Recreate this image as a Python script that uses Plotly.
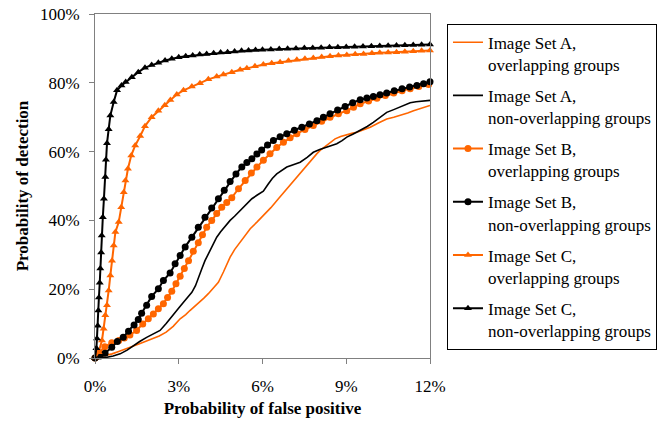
import plotly.graph_objects as go

ORANGE = "#FF6600"
BLACK = "#000000"
FONT = "Liberation Serif"

# ---- data (percent units) ----
a_over_x = [0, 0.3, 0.61, 0.85, 1.09, 1.35, 1.57, 1.8, 2.04, 2.3, 2.55, 2.8, 3.05, 3.25, 3.4, 3.58, 3.76, 3.9,
            4.06, 4.25, 4.42, 4.6, 4.84, 5.0, 5.2, 5.38, 5.56, 5.8, 6.03, 6.3, 6.57, 6.8, 7.0, 7.25, 7.47, 7.7,
            7.95, 8.1, 8.3, 8.45, 8.6, 8.8, 9.02, 9.2, 9.38, 9.6, 9.86, 10.15, 10.45, 10.7, 10.93, 11.2, 11.41,
            11.7, 12.0]
a_over_y = [0, 0.5, 1.2, 1.9, 2.7, 3.4, 4.1, 4.8, 5.6, 6.4, 7.5, 9.2, 11.4, 12.6, 13.8, 15.0, 16.2, 17.4,
            18.7, 20.3, 22.0, 25.0, 29.3, 31.5, 33.7, 35.6, 37.6, 39.5, 41.4, 43.7, 46.3, 48.5, 50.6, 52.8, 55.0,
            57.2, 59.4, 60.6, 61.8, 62.8, 63.7, 64.4, 65.0, 65.3, 65.6, 66.3, 67.1, 68.3, 69.5, 70.0, 70.5, 71.2,
            71.9, 72.7, 73.4]

a_non_x = [0, 0.2, 0.42, 0.65, 0.9, 1.15, 1.37, 1.6, 1.85, 2.1, 2.33, 2.55, 2.81, 3.0, 3.17, 3.3, 3.47, 3.6,
           3.7, 3.82, 3.94, 4.1, 4.25, 4.36, 4.5, 4.65, 4.84, 5.0, 5.15, 5.32, 5.45, 5.62, 5.8, 6.03, 6.2, 6.35,
           6.51, 6.7, 6.87, 7.1, 7.35, 7.6, 7.82, 8.05, 8.3, 8.5, 8.66, 8.85, 9.02, 9.25, 9.5, 9.75, 9.97, 10.2,
           10.45, 10.7, 10.93, 11.1, 11.29, 11.5, 11.75, 12.0]
a_non_y = [0, 0.1, 0.2, 0.6, 1.2, 2.3, 3.6, 4.8, 6.0, 7.0, 8.0, 10.0, 12.8, 14.5, 16.2, 17.5, 19.1, 21.0,
           23.5, 25.8, 28.3, 31.0, 33.5, 35.1, 36.7, 38.3, 40.0, 41.2, 42.4, 43.8, 45.0, 46.3, 47.3, 48.5, 50.5,
           52.2, 53.5, 54.6, 55.5, 56.2, 56.9, 58.3, 59.8, 60.6, 61.3, 61.8, 62.3, 63.2, 64.2, 65.1, 66.1, 67.3,
           68.5, 70.0, 71.4, 72.2, 72.9, 73.6, 74.2, 74.5, 74.7, 74.9]

b_over_x = [0, 0.15, 0.35, 0.6, 0.85, 1.05, 1.25, 1.49, 1.71, 1.91, 2.09, 2.27, 2.45, 2.6, 2.75, 2.9, 3.05,
            3.2, 3.35, 3.52, 3.7, 3.85, 4.0, 4.18, 4.36, 4.54, 4.72, 4.9, 5.14, 5.38, 5.6, 5.8, 6.03, 6.27,
            6.51, 6.75, 6.99, 7.23, 7.52, 7.82, 8.12, 8.42, 8.72, 9.02, 9.26, 9.5, 9.8, 10.1, 10.4, 10.7, 11.0,
            11.29, 11.6, 11.95]
b_over_y = [0, 1.5, 3.3, 4.4, 5.1, 5.8, 6.7, 8.0, 9.9, 11.4, 12.8, 14.3, 15.8, 17.6, 19.4, 21.6, 23.8,
            26.0, 28.3, 31.0, 33.5, 35.8, 38.0, 40.0, 42.0, 43.8, 45.2, 46.6, 49.2, 51.6, 53.8, 55.5, 57.5, 59.4,
            61.2, 62.7, 64.0, 65.2, 66.4, 67.6, 68.8, 70.0, 71.0, 71.9, 72.9, 73.9, 74.7, 75.5, 76.3, 77.0, 77.7,
            78.3, 78.9, 79.5]

b_non_x = [0, 0.18, 0.36, 0.6, 0.8, 1.01, 1.2, 1.4, 1.55, 1.67, 1.85, 2.03, 2.27, 2.45, 2.69, 2.87, 3.05,
           3.23, 3.47, 3.7, 3.94, 4.18, 4.42, 4.63, 4.84, 5.05, 5.26, 5.44, 5.62, 5.8, 5.97, 6.18, 6.39, 6.63,
           6.87, 7.14, 7.41, 7.68, 7.95, 8.18, 8.42, 8.69, 8.96, 9.23, 9.5, 9.74, 9.97, 10.21, 10.45, 10.72,
           11.0, 11.27, 11.53, 11.77, 12.0]
b_non_y = [0, 0.6, 1.4, 3.1, 4.8, 6.0, 7.8, 9.6, 11.2, 13.0, 15.3, 17.9, 20.1, 22.5, 24.7, 27.4, 29.8,
           32.3, 35.1, 38.0, 40.9, 43.6, 46.3, 48.8, 51.3, 53.5, 55.5, 56.8, 57.9, 59.3, 60.5, 61.9, 63.2, 64.3,
           65.2, 66.2, 67.1, 68.0, 69.0, 70.0, 71.0, 72.1, 73.1, 74.2, 75.1, 75.6, 76.0, 76.5, 77.0, 77.7,
           78.3, 78.8, 79.2, 79.7, 80.3]

c_over_x = [0, 0.13, 0.25, 0.31, 0.37, 0.43, 0.49, 0.55, 0.61, 0.67, 0.73, 0.85, 0.94, 1.03, 1.09, 1.18,
            1.3, 1.44, 1.62, 1.79, 2.03, 2.27, 2.5, 2.7, 2.93, 3.17, 3.47, 3.76, 4.06, 4.36, 4.6, 4.9, 5.2,
            5.44, 5.73, 6.03, 6.33, 6.63, 6.93, 7.23, 7.52, 7.82, 8.12, 8.42, 8.72, 9.02, 9.32, 9.62, 9.92,
            10.2, 10.5, 10.8, 11.1, 11.4, 11.7, 12.0]
c_over_y = [0, 1.7, 5.1, 8.5, 12.4, 15.3, 19.6, 24.0, 28.3, 32.7, 36.6, 39.5, 43.8, 48.2, 51.6, 55.0,
            58.9, 61.8, 64.5, 67.4, 70.0, 71.9, 73.5, 75.0, 76.6, 77.8, 78.9, 79.9, 81.0, 81.8, 82.4, 83.1,
            83.8, 84.2, 84.8, 85.3, 85.7, 86.0, 86.4, 86.7, 87.0, 87.2, 87.5, 87.7, 87.9, 88.1, 88.3, 88.4,
            88.6, 88.7, 88.8, 88.9, 89.0, 89.2, 89.3, 89.4]

c_non_x = [0, 0.05, 0.07, 0.1, 0.12, 0.14, 0.17, 0.19, 0.22, 0.24, 0.28, 0.32, 0.37, 0.39, 0.43, 0.49,
           0.55, 0.67, 0.79, 0.95, 1.1, 1.32, 1.55, 1.79, 2.03, 2.27, 2.51, 2.75, 3.0, 3.25, 3.5, 3.75, 4.0,
           4.25, 4.5, 4.75, 5.0, 5.25, 5.5, 5.75, 6.0, 6.3, 6.6, 6.9, 7.2, 7.5, 7.8, 8.1, 8.4, 8.7, 9.0, 9.3,
           9.6, 9.9, 10.2, 10.5, 10.8, 11.1, 11.4, 11.7, 12.0]
c_non_y = [0, 2.8, 5.7, 9.4, 13.8, 17.6, 21.9, 26.0, 30.7, 35.6, 40.9, 46.3, 52.6, 57.6, 62.4, 66.5,
           70.5, 74.4, 77.8, 79.2, 80.2, 81.6, 83.1, 84.4, 85.2, 85.8, 86.5, 87.0, 87.4, 87.7, 87.9, 88.2,
           88.4, 88.6, 88.8, 88.9, 89.1, 89.3, 89.4, 89.5, 89.6, 89.7, 89.8, 89.9, 90.0, 90.1, 90.15, 90.2,
           90.3, 90.35, 90.4, 90.5, 90.55, 90.6, 90.7, 90.75, 90.85, 90.9, 91.0, 91.05, 91.1]

x_ticks = [0, 3, 6, 9, 12]
x_tick_labels = ["0%", "3%", "6%", "9%", "12%"]
y_ticks = [0, 20, 40, 60, 80, 100]
y_tick_labels = ["0%", "20%", "40%", "60%", "80%", "100%"]

names = ["Image Set A,<br>overlapping groups", "Image Set A,<br>non-overlapping groups",
         "Image Set B,<br>overlapping groups", "Image Set B,<br>non-overlapping groups",
         "Image Set C,<br>overlapping groups", "Image Set C,<br>non-overlapping groups"]

fig = go.Figure()

series = [
    (a_over_x, a_over_y, ORANGE, None, 1.6),
    (a_non_x, a_non_y, BLACK, None, 1.6),
    (b_over_x, b_over_y, ORANGE, "circle", 2),
    (b_non_x, b_non_y, BLACK, "circle", 2),
    (c_over_x, c_over_y, ORANGE, "triangle-up", 2),
    (c_non_x, c_non_y, BLACK, "triangle-up", 2),
]
for i, (xs, ys, col, sym, lw) in enumerate(series):
    kw = dict(mode="lines")
    if sym:
        kw = dict(mode="lines+markers",
                  marker=dict(symbol=sym, size=7, color=col, line=dict(width=0)))
    fig.add_trace(go.Scatter(x=xs, y=ys, name=names[i], line=dict(color=col, width=lw),
                             legendgroup=f"g{i}", cliponaxis=False, **kw))

axis_common = dict(showline=True, linecolor="#808080", linewidth=1, mirror=True, ticks="outside",
                   ticklen=5, tickcolor="#808080", showgrid=False, zeroline=False,
                   tickfont=dict(family=FONT, size=17, color="black"))

fig.update_xaxes(range=[0, 12], tickmode="array", tickvals=x_ticks, ticktext=x_tick_labels,
                 ticklabelstandoff=8,
                 title=dict(text="<b>Probability of false positive</b>",
                            font=dict(family=FONT, size=17, color="black"), standoff=6),
                 **axis_common)
fig.update_yaxes(range=[0, 100], tickmode="array", tickvals=y_ticks, ticktext=y_tick_labels,
                 ticklabelstandoff=6,
                 title=dict(text="<b>Probability of detection</b>",
                            font=dict(family=FONT, size=17, color="black"), standoff=6),
                 **axis_common)

fig.update_layout(
    width=664, height=423,
    margin=dict(l=95, r=234, t=14, b=65, pad=0, autoexpand=False),
    paper_bgcolor="white", plot_bgcolor="white",
    font=dict(family=FONT, size=17, color="black"),
    legend=dict(x=1.0507, y=0.972, xanchor="left", yanchor="top",
                bordercolor="black", borderwidth=1, bgcolor="white",
                font=dict(family=FONT, size=17, color="black"),
                tracegroupgap=6, valign="top", itemwidth=30),
    showlegend=True,
)

fig.write_html("out.html")
